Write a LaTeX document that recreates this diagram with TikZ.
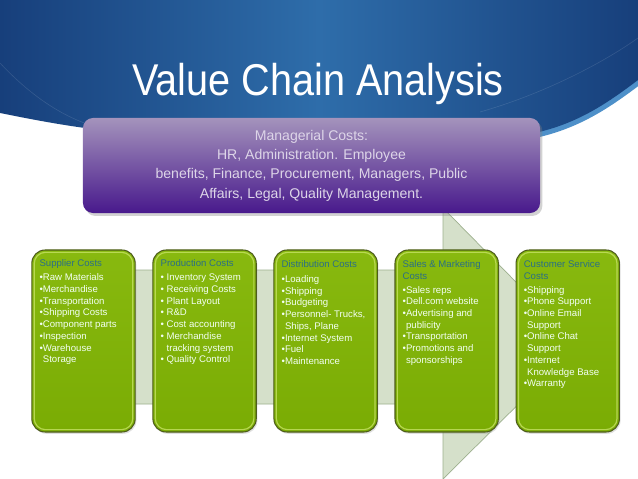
\documentclass[tikz,border=0pt]{standalone}
\usepackage{fontspec}
\setmainfont{Liberation Sans}
\usetikzlibrary{positioning,shadows}
\definecolor{navy}{HTML}{173F7B}
\definecolor{midblue}{HTML}{2E6DAA}
\definecolor{rimblue}{HTML}{4E90C9}
\definecolor{lavtop}{HTML}{A493BC}
\definecolor{lavbot}{HTML}{48198C}
\definecolor{lavtext}{HTML}{DDD5E8}
\definecolor{arrowfill}{HTML}{D5E0CA}
\definecolor{arrowline}{HTML}{9DB08E}
\definecolor{limetop}{HTML}{88B90F}
\definecolor{limebot}{HTML}{7AAC04}
\definecolor{limeedge}{HTML}{4E5D1B}
\definecolor{limelight}{HTML}{C6E164}
\definecolor{headteal}{HTML}{2A6F85}
\newcommand\gap{\phantom{\textbullet}}

\begin{document}
\begin{tikzpicture}[x=0.03cm,y=-0.03cm,node distance=0.5cm,
    mgrbox/.style={rectangle,rounded corners=0.3cm,minimum width=13.71cm,minimum height=2.85cm,
      top color=lavtop,bottom color=lavbot,text=lavtext,align=center,
      font=\fontsize{12}{16.5}\selectfont,
      drop shadow={opacity=0.35,shadow xshift=2pt,shadow yshift=-2.5pt}},
    costbox/.style={rectangle,rounded corners=0.4cm,minimum width=3.1cm,minimum height=5.46cm,
      top color=limetop,bottom color=limebot,draw=limeedge,line width=0.9pt,inner sep=0pt,
      drop shadow={opacity=0.25,shadow xshift=1pt,shadow yshift=-1.5pt},
      path picture={\draw[limelight,line width=1pt,rounded corners=0.34cm,opacity=0.8]
        ([shift={(2pt,2pt)}]path picture bounding box.south west) rectangle
        ([shift={(-2pt,-2pt)}]path picture bounding box.north east);}},
    costtext/.style={align=left,inner sep=0pt,text=white!95!green,
      font=\fontsize{8.2}{10}\selectfont},
    head/.style={text=headteal}]
  \useasboundingbox (0,0) rectangle (638,479);
  \fill[white] (0,0) rectangle (638,479);
  % blue header band
  \draw[rimblue,line width=0.3cm] (638,80) .. controls (605,105) and (575,125) .. (530,134);
  \shade[left color=navy,right color=navy,middle color=midblue]
    (0,0) -- (638,0) -- (638,80) .. controls (605,105) and (575,125) .. (530,134)
    -- (100,130) .. controls (60,125) and (30,119) .. (0,113) -- cycle;
  \draw[white,opacity=0.12,line width=0.5pt] (0,63) .. controls (30,95) and (60,115) .. (90,125);
  \draw[white,opacity=0.12,line width=0.5pt] (480,112) .. controls (540,95) and (600,65) .. (638,38);
  \node[anchor=base,text=white,font=\fontsize{38}{40}\selectfont] (title) at (318,96)
    {\scalebox{0.89}[1]{Value Chain Analysis}};
  % chain arrow
  \filldraw[fill=arrowfill,draw=arrowline,line width=0.6pt]
    (60,270) -- (443,270) -- (443,208) -- (578,345) -- (443,479) -- (443,404) -- (60,404) -- cycle;
  \node[mgrbox] (managerial) at (311.5,165.5)
    {Managerial Costs:\\HR, Administration. Employee\\benefits, Finance, Procurement, Managers, Public\\Affairs, Legal, Quality Management.};
  % cost boxes
  \node[costbox] (supplier) at (83.5,341) {};
  \node[costbox,right=of supplier] (production) {};
  \node[costbox,right=of production] (distribution) {};
  \node[costbox,right=of distribution] (sales) {};
  \node[costbox,right=of sales] (service) {};
  \node[costtext,below right=0.3cm and 0.24cm of supplier.north west] (suppliertext)
    {{\color{headteal}Supplier Costs}\\[2pt]\textbullet Raw Materials\\\textbullet Merchandise\\
     \textbullet Transportation\\\textbullet Shipping Costs\\\textbullet Component parts\\
     \textbullet Inspection\\\textbullet Warehouse\\\gap Storage};
  \node[costtext,below right=0.3cm and 0.24cm of production.north west] (productiontext)
    {{\color{headteal}Production Costs}\\[2pt]\textbullet\ Inventory System\\\textbullet\ Receiving Costs\\
     \textbullet\ Plant Layout\\\textbullet\ R\&D\\\textbullet\ Cost accounting\\
     \textbullet\ Merchandise\\\gap\ tracking system\\\textbullet\ Quality Control};
  \node[costtext,below right=0.32cm and 0.24cm of distribution.north west] (distributiontext)
    {{\color{headteal}Distribution Costs}\\[3pt]\textbullet Loading\\\textbullet Shipping\\
     \textbullet Budgeting\\\textbullet Personnel- Trucks,\\\gap Ships, Plane\\
     \textbullet Internet System\\\textbullet Fuel\\\textbullet Maintenance};
  \node[costtext,below right=0.32cm and 0.24cm of sales.north west] (salestext)
    {{\color{headteal}Sales \& Marketing}\\{\color{headteal}Costs}\\[2pt]\textbullet Sales reps\\
     \textbullet Dell.com website\\\textbullet Advertising and\\\gap publicity\\
     \textbullet Transportation\\\textbullet Promotions and\\\gap sponsorships};
  \node[costtext,below right=0.32cm and 0.24cm of service.north west] (servicetext)
    {{\color{headteal}Customer Service}\\{\color{headteal}Costs}\\[2pt]\textbullet Shipping\\
     \textbullet Phone Support\\\textbullet Online Email\\\gap Support\\
     \textbullet Online Chat\\\gap Support\\\textbullet Internet\\\gap Knowledge Base\\
     \textbullet Warranty};
\end{tikzpicture}
\end{document}
